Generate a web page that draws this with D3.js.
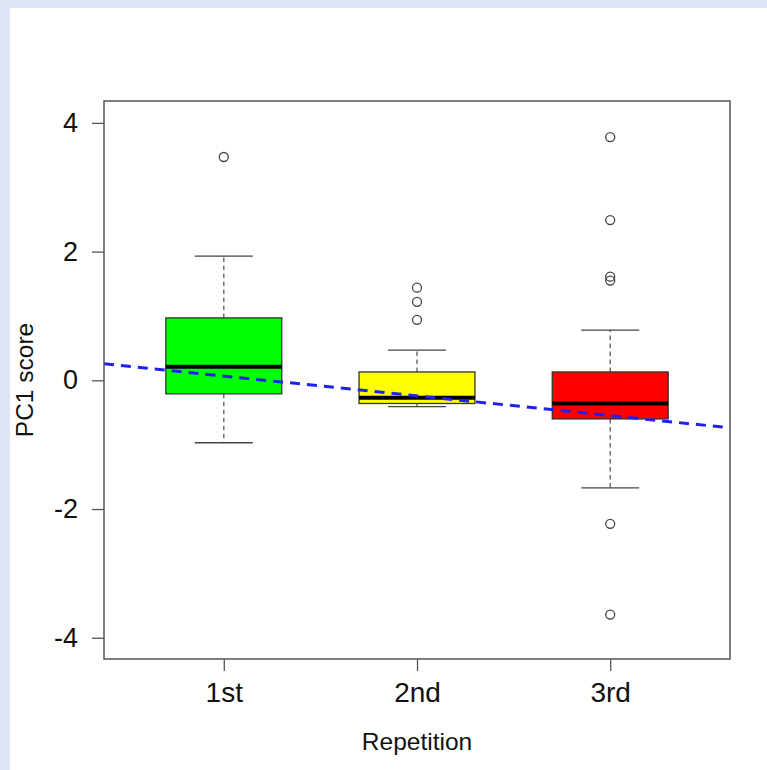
<!DOCTYPE html>
<html>
<head>
<meta charset="utf-8">
<script src="https://cdn.jsdelivr.net/npm/d3@7"></script>
<style>
  html, body { margin: 0; padding: 0; background: #dfe5f4; }
  svg { display: block; }
  text { font-family: "Liberation Sans", Arial, Helvetica, sans-serif; fill: #111; }
</style>
</head>
<body>
<svg id="chart" width="767" height="770"></svg>
<script>
// ---- data ----
const categories = ["1st", "2nd", "3rd"];
const q1Values = [-0.21, -0.36, -0.60];
const medianValues = [0.21, -0.27, -0.36];
const q3Values = [0.97, 0.13, 0.13];
const whiskerLow = [-0.97, -0.41, -1.67];
const whiskerHigh = [1.93, 0.47, 0.78];
const outlierValues = [
  [3.47],
  [1.44, 1.22, 0.94],
  [3.78, 2.49, 1.61, 1.55, -2.23, -3.64]
];
const yTickValues = [-4, -2, 0, 2, 4];
const trendIntercept = 0.373;
const trendSlope = -0.307;
const boxColors = ["#00ff00", "#ffff00", "#ff0000"];

// ---- layout ----
const svg = d3.select("#chart");
svg.append("rect").attr("x", 10).attr("y", 8).attr("width", 757).attr("height", 762).attr("fill", "#ffffff");

const plot = { left: 104, right: 730, top: 101, bottom: 659 };
const x = d3.scaleLinear().domain([0.38, 3.62]).range([plot.left, plot.right]);
const y = d3.scaleLinear().domain([-4.33, 4.34]).range([plot.bottom, plot.top]);

svg.append("clipPath").attr("id", "clip")
  .append("rect").attr("x", plot.left).attr("y", plot.top)
  .attr("width", plot.right - plot.left).attr("height", plot.bottom - plot.top);

const boxes = categories.map((c, i) => ({
  c, pos: i + 1, q1: q1Values[i], med: medianValues[i], q3: q3Values[i],
  lo: whiskerLow[i], hi: whiskerHigh[i], out: outlierValues[i], color: boxColors[i]
}));

const g = svg.append("g");

// whiskers (dashed)
g.selectAll(".wu").data(boxes).join("line")
  .attr("x1", d => x(d.pos)).attr("x2", d => x(d.pos))
  .attr("y1", d => y(d.q3)).attr("y2", d => y(d.hi))
  .attr("stroke", "#666").attr("stroke-width", 1.4).attr("stroke-dasharray", "4.5,3.5");
g.selectAll(".wl").data(boxes).join("line")
  .attr("x1", d => x(d.pos)).attr("x2", d => x(d.pos))
  .attr("y1", d => y(d.q1)).attr("y2", d => y(d.lo))
  .attr("stroke", "#666").attr("stroke-width", 1.4).attr("stroke-dasharray", "4.5,3.5");
// staples
["hi", "lo"].forEach(k => {
  g.selectAll(".st" + k).data(boxes).join("line")
    .attr("x1", d => x(d.pos - 0.15)).attr("x2", d => x(d.pos + 0.15))
    .attr("y1", d => y(d[k])).attr("y2", d => y(d[k]))
    .attr("stroke", "#444").attr("stroke-width", 1.3);
});
// boxes
g.selectAll(".box").data(boxes).join("rect")
  .attr("x", d => x(d.pos - 0.3)).attr("width", d => x(d.pos + 0.3) - x(d.pos - 0.3))
  .attr("y", d => y(d.q3)).attr("height", d => y(d.q1) - y(d.q3))
  .attr("fill", d => d.color).attr("stroke", "#333").attr("stroke-width", 1.3);
// medians
g.selectAll(".med").data(boxes).join("line")
  .attr("x1", d => x(d.pos - 0.3)).attr("x2", d => x(d.pos + 0.3))
  .attr("y1", d => y(d.med)).attr("y2", d => y(d.med))
  .attr("stroke", "#000").attr("stroke-width", 4);
// outliers
boxes.forEach(d => {
  g.selectAll(null).data(d.out).join("circle")
    .attr("cx", x(d.pos)).attr("cy", v => y(v)).attr("r", 4.5)
    .attr("fill", "none").attr("stroke", "#444").attr("stroke-width", 1.3);
});

// trend line
const xd = x.domain();
svg.append("line").attr("clip-path", "url(#clip)")
  .attr("x1", x(xd[0])).attr("y1", y(trendIntercept + trendSlope * xd[0]))
  .attr("x2", x(xd[1])).attr("y2", y(trendIntercept + trendSlope * xd[1]))
  .attr("stroke", "#2020f0").attr("stroke-width", 3).attr("stroke-dasharray", "10,7");

// frame
svg.append("rect").attr("x", plot.left).attr("y", plot.top)
  .attr("width", plot.right - plot.left).attr("height", plot.bottom - plot.top)
  .attr("fill", "none").attr("stroke", "#555").attr("stroke-width", 1.5);

// axes
const yAxis = svg.append("g").attr("transform", `translate(${plot.left},0)`)
  .call(d3.axisLeft(y).tickValues(yTickValues).tickSize(12).tickPadding(14).tickFormat(d => String(d)));
yAxis.select(".domain").remove();
yAxis.selectAll("line").attr("stroke", "#555").attr("stroke-width", 1.3);
yAxis.selectAll("text").attr("font-size", 27).attr("font-family", null).style("fill", "#111");

const xAxis = svg.append("g").attr("transform", `translate(0,${plot.bottom})`)
  .call(d3.axisBottom(x).tickValues([1, 2, 3]).tickSize(12).tickPadding(11).tickFormat(d => categories[d - 1]));
xAxis.select(".domain").remove();
xAxis.selectAll("line").attr("stroke", "#555").attr("stroke-width", 1.3);
xAxis.selectAll("text").attr("font-size", 28).attr("font-family", null).style("fill", "#111");

// axis titles
svg.append("text").attr("x", x(2)).attr("y", 750).attr("text-anchor", "middle")
  .attr("font-size", 24.5).text("Repetition");
svg.append("text").attr("transform", `translate(33,380) rotate(-90)`).attr("text-anchor", "middle")
  .attr("font-size", 24.5).text("PC1 score");
</script>
</body>
</html>
